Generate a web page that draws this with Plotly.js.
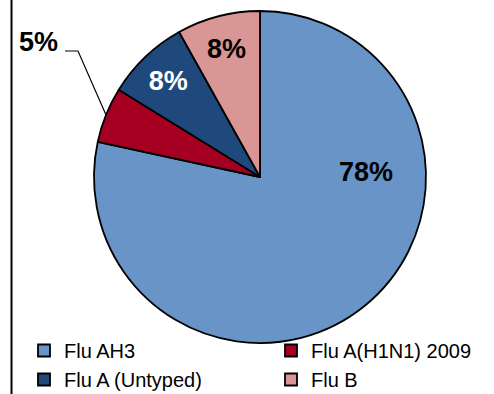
<!DOCTYPE html>
<html><head><meta charset="utf-8">
<script src="https://cdn.plot.ly/plotly-3.0.1.min.js"></script>
<style>html,body{margin:0;padding:0;background:#fff;}#chart{width:494px;height:394px;}</style>
</head><body><div id="chart"></div>
<script>
const categories = ['Flu AH3', 'Flu A(H1N1) 2009', 'Flu A (Untyped)', 'Flu B'];
const shares = [78.4, 5.4, 8.1, 8.1];
const sliceColors = ['#6894C7', '#A50021', '#1F497D', '#D99694'];
const labelColors = ['#000000', '#000000', '#FFFFFF', '#000000'];

const W = 494, H = 394;
const cx = 260, cy = 177, R = 166;
const total = shares.reduce((a, b) => a + b, 0);
const pct = v => Math.round(v / total * 100) + '%';

// leader label for the small slice, computed from its data
const idx = 1;
let before = 0; for (let i = 0; i < idx; i++) before += shares[i];
const midFrac = (before + shares[idx] / 2) / total;
const th = midFrac * 2 * Math.PI;
const ex = cx + R * Math.sin(th), ey = cy - R * Math.cos(th);

const trace = {
  type: 'pie',
  labels: categories,
  values: shares,
  sort: false,
  direction: 'clockwise',
  rotation: 0,
  marker: { colors: sliceColors, line: { color: '#000000', width: 1.8 } },
  texttemplate: '%{percent:.0%}',
  textposition: ['none', 'none', 'inside', 'inside'],
  insidetextorientation: 'horizontal',
  textfont: { family: 'Liberation Sans, Arial, sans-serif', size: 27, color: labelColors, weight: 'bold' },
  hoverinfo: 'label+percent',
  domain: { x: [(cx - R) / W, (cx + R) / W], y: [1 - (cy + R) / H, 1 - (cy - R) / H] }
};

const boldFont = { family: 'Liberation Sans, Arial, sans-serif', size: 27, color: '#000', weight: 'bold' };

const layout = {
  width: W, height: H,
  margin: { l: 0, r: 0, t: 0, b: 0, autoexpand: false },
  paper_bgcolor: '#ffffff',
  showlegend: true,
  legend: {
    orientation: 'h', x: 24 / W, xanchor: 'left', y: -5 / H, yanchor: 'bottom',
    entrywidth: 202, entrywidthmode: 'pixels',
    font: { family: 'Liberation Sans, Arial, sans-serif', size: 20, color: '#000' },
    itemwidth: 30, tracegroupgap: 0, bgcolor: 'rgba(0,0,0,0)'
  },
  shapes: [
    { type: 'line', xref: 'paper', yref: 'paper', x0: 11.5 / W, x1: 11.5 / W, y0: 0, y1: 1, line: { color: '#000', width: 2 } },
    { type: 'path', xref: 'paper', yref: 'paper',
      path: `M ${65 / W} ${1 - 51 / H} L ${78 / W} ${1 - 51 / H} L ${ex / W} ${1 - ey / H}`,
      line: { color: '#000', width: 1.2 } }
  ],
  annotations: [
    { xref: 'paper', yref: 'paper', x: 38.5 / W, y: 1 - 42 / H, xanchor: 'center', yanchor: 'middle',
      text: pct(shares[1]), showarrow: false, font: boldFont },
    { xref: 'paper', yref: 'paper', x: 366 / W, y: 1 - 172 / H, xanchor: 'center', yanchor: 'middle',
      text: pct(shares[0]), showarrow: false, font: boldFont }
  ]
};

Plotly.newPlot('chart', [trace], layout, { displayModeBar: false, staticPlot: true });
</script></body></html>
